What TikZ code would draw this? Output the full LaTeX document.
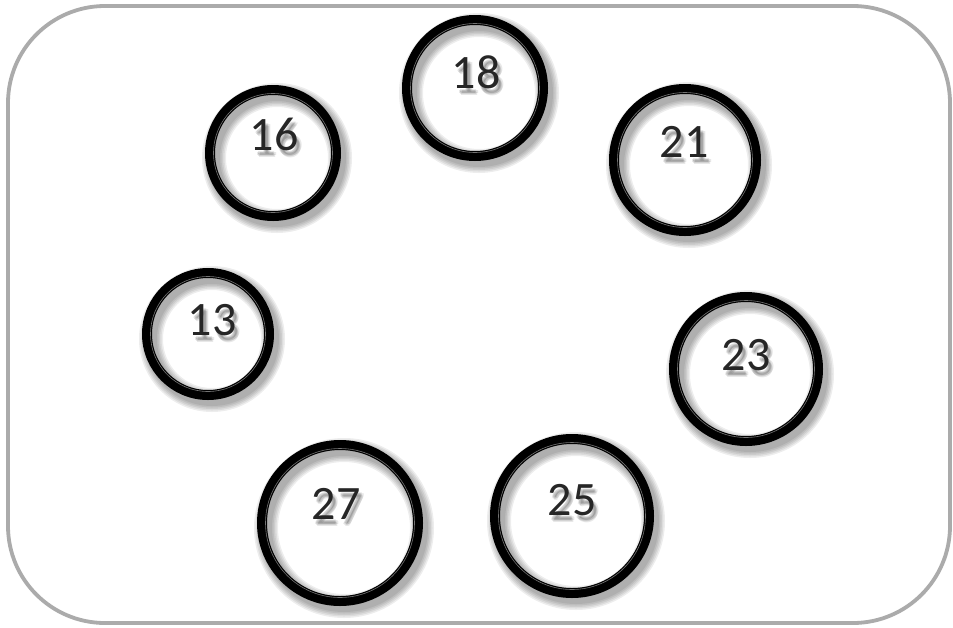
\documentclass[tikz,border=0pt]{standalone}
\usepackage{fontspec}
\setmainfont{Carlito}
\begin{document}
\begin{tikzpicture}[x=1pt,y=-1pt,
  frame/.style={draw=black!33, line width=3.8pt, rounded corners=97pt},
  ring/.style={circle, draw=black, line width=10pt, inner sep=0pt, outer sep=0pt},
  ringline/.style={draw=black!55, line width=0.6pt},
  shade/.style={draw=black, line width=#1, opacity=0.07},
  numtext/.style={inner sep=0pt, text=black!85, font=\fontsize{48}{50}\selectfont},
  numshadow/.style={inner sep=0pt, text=black, opacity=0.09, font=\fontsize{48}{50}\selectfont}]
\useasboundingbox (0,0) rectangle (953,627);
\fill[white] (0,0) rectangle (953,627);
\draw[frame] (8,6) rectangle (950,623);
% ring macro: name, x, y, outer radius, text x, text y, text
\newcommand\ringat[7]{%
  \foreach \w in {12,15,18,21,24}{\draw[shade=\w pt] (#2+4,#3+5) circle (#4-5);}
  \node[ring, minimum size={2*(#4-5)}] (#1) at (#2,#3) {};
  \draw[ringline] (#1.center) circle (#4-8.5);
  \foreach \dx/\dy in {3/4,3/6,5/5,2/5,4/7}{\node[numshadow] at (#5+\dx,#6+\dy) {#7};}
  \node[numtext] (#1t) at (#5,#6) {#7};
}
\ringat{c16}{273}{153}{68}{274}{134}{16}
\ringat{c18}{475}{88}{73}{476}{72}{18}
\ringat{c21}{685}{160}{76}{684}{142}{21}
\ringat{c13}{208}{334}{66}{212}{320}{13}
\ringat{c23}{746}{369}{77}{746}{355}{23}
\ringat{c25}{572}{516}{82}{572}{500}{25}
\ringat{c27}{340}{523}{83}{336}{504}{27}
\end{tikzpicture}
\end{document}
